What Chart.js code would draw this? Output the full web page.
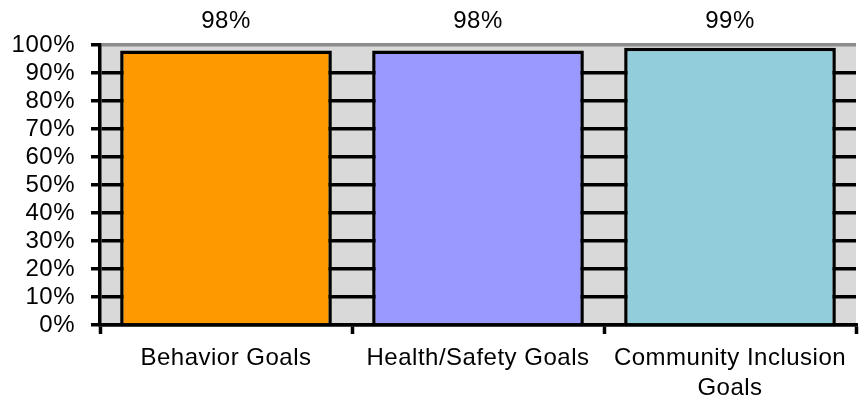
<!DOCTYPE html>
<html>
<head>
<meta charset="utf-8">
<script src="https://cdn.jsdelivr.net/npm/chart.js@4"></script>
<style>
html,body{margin:0;padding:0;background:#fff;}
#wrap{width:859px;height:402px;}
</style>
</head>
<body>
<div id="wrap"><canvas id="c" width="859" height="402"></canvas></div>
<script>
const categories = ["Behavior Goals", "Health/Safety Goals", ["Community Inclusion", "Goals"]];
const values = [98, 98, 99];
const valueLabels = ["98%", "98%", "99%"];
const barColors = ["#ff9900", "#9999ff", "#92cddc"];
const yTicks = [0, 10, 20, 30, 40, 50, 60, 70, 80, 90, 100];

const FONT = "'Liberation Sans', Arial, sans-serif";
const FS = 24;
const LS = '0.5px';

const spacingPlugin = {
  id: 'spacing',
  beforeUpdate(chart) { chart.ctx.letterSpacing = LS; },
  beforeDraw(chart) {
    chart.ctx.letterSpacing = LS;
    const a = chart.chartArea, ctx = chart.ctx;
    ctx.save();
    ctx.fillStyle = '#d9d9d9';
    ctx.fillRect(a.left, a.top, a.right - a.left, a.bottom - a.top);
    ctx.restore();
  },
  afterDatasetsDraw(chart) {
    const ctx = chart.ctx;
    const meta = chart.getDatasetMeta(0);
    ctx.save();
    ctx.letterSpacing = LS;
    ctx.font = FS + "px " + FONT;
    ctx.fillStyle = '#000';
    ctx.textAlign = 'center';
    ctx.textBaseline = 'middle';
    meta.data.forEach((bar, i) => {
      ctx.fillText(valueLabels[i], bar.x, chart.chartArea.top - 24);
    });
    ctx.restore();
  }
};

new Chart(document.getElementById('c'), {
  type: 'bar',
  data: {
    labels: categories,
    datasets: [{
      data: values,
      backgroundColor: barColors,
      borderColor: '#000',
      borderWidth: 3.5,
      barPercentage: 0.84,
      categoryPercentage: 1
    }]
  },
  options: {
    responsive: false,
    animation: false,
    devicePixelRatio: 1,
    layout: { padding: { top: 45, right: 3, left: 0, bottom: 0 } },
    plugins: { legend: { display: false }, tooltip: { enabled: false } },
    scales: {
      x: {
        offset: true,
        afterFit(s) { s.height = 77; },
        grid: {
          offset: true,
          drawOnChartArea: true,
          color: (c) => c.index === 3 ? '#8c8c8c' : 'rgba(0,0,0,0)',
          lineWidth: 3,
          tickColor: '#000',
          tickLength: 9,
          tickWidth: 3.5
        },
        border: { color: '#000', width: 3.5 },
        ticks: {
          color: '#000',
          font: { family: FONT, size: FS, lineHeight: 1.25 },
          padding: 9,
          maxRotation: 0,
          autoSkip: false
        }
      },
      y: {
        min: 0,
        max: 100,
        afterFit(s) { s.width = 100; },
        afterBuildTicks(s) { s.ticks = yTicks.map(v => ({ value: v })); },
        grid: {
          color: (c) => c.tick && c.tick.value === 100 ? '#8c8c8c' : '#000',
          lineWidth: 3.5,
          tickColor: '#000',
          tickLength: 9,
          tickWidth: 3.5
        },
        border: { color: '#000', width: 3.5 },
        ticks: {
          color: '#000',
          font: { family: FONT, size: FS },
          padding: 16,
          autoSkip: false,
          callback: (v) => v + '%'
        }
      }
    }
  },
  plugins: [spacingPlugin]
});
</script>
</body>
</html>
